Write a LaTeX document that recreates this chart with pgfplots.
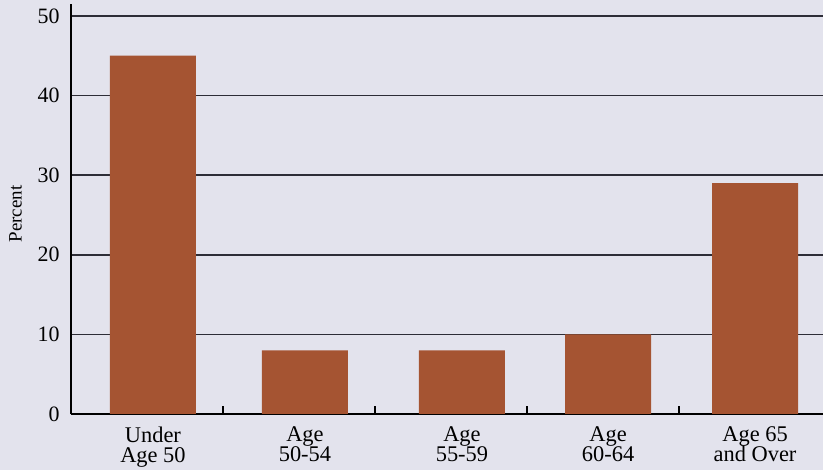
\documentclass[border=0pt]{standalone}
\usepackage{fontspec}
\setmainfont{Liberation Serif}
\usepackage{pgfplots}
\pgfplotsset{compat=1.18}
\definecolor{bg}{RGB}{227,227,237}
\definecolor{barc}{RGB}{165,84,50}
\definecolor{gridc}{RGB}{45,45,55}
\begin{document}
\begin{tikzpicture}
\fill[bg] (-71bp,-56bp) rectangle (752bp,414bp);
\useasboundingbox (-71bp,-56bp) rectangle (752bp,414bp);
\begin{axis}[at={(0,0)}, anchor=south west, scale only axis,
  width=752bp, height=410bp,
  xmin=0, xmax=4.947, ymin=0, ymax=51.5,
  axis x line=bottom, axis y line=left,
  axis line style={-, line width=2.6bp, black},
  ytick={0,10,...,50}, ymajorgrids,
  grid style={line width=1.7bp, color=gridc},
  major tick length=0pt,
  xtick={0.539,1.539,2.572,3.533,4.5},
  xticklabels={Under\\Age 50, Age\\50-54, Age\\55-59, Age\\60-64, Age 65\\and Over},
  xticklabel style={align=center, font=\fontsize{22.5}{20.5}\selectfont, yshift=-9bp},
  yticklabel style={font=\fontsize{22}{22}\selectfont, xshift=-8bp},
  /pgf/number format/assume math mode=true,
  minor xtick={1,2,3,4}, minor tick length=8bp,
  minor tick style={line width=2.4bp, black}, tick align=inside,
  ylabel={Percent},
  ylabel style={font=\fontsize{19}{19}\selectfont, yshift=9bp, xshift=-5bp},
]
\addplot[ybar, bar width=0.566, fill=barc, draw=none] coordinates {(0.539,45) (1.539,8) (2.572,8) (3.533,10) (4.5,29)};
\end{axis}
\end{tikzpicture}
\end{document}
